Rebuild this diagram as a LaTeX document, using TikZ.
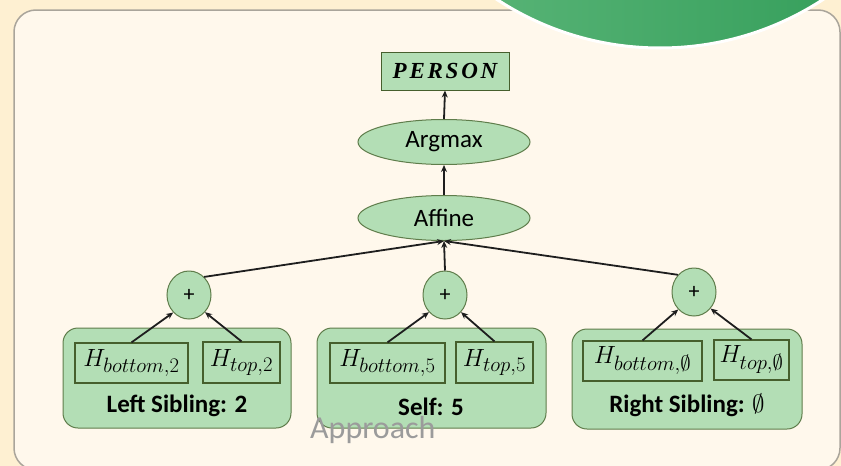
\documentclass[tikz,border=0pt]{standalone}
\usepackage{fontspec}
\setmainfont{Carlito}
\newfontfamily\personfont[LetterSpace=12]{Liberation Serif}
\usetikzlibrary{shapes.geometric,arrows.meta}

\definecolor{pagebg}{RGB}{254,240,210}
\definecolor{panelbg}{RGB}{255,248,236}
\definecolor{panelline}{RGB}{170,165,155}
\definecolor{mint}{RGB}{179,222,181}
\definecolor{mintline}{RGB}{95,125,75}
\definecolor{boxline}{RGB}{70,95,45}
\definecolor{discA}{RGB}{98,186,126}
\definecolor{discB}{RGB}{44,153,84}
\definecolor{wm}{RGB}{155,155,155}

% hidden-state label: large italic H with a roomy subscript
\newcommand{\hstate}[1]{$H_{\hbox{\fontsize{20}{22}\selectfont$#1$}}$}

\tikzset{
  greenfill/.style={fill=mint, draw=mintline, line width=1pt},
  oval/.style={greenfill, ellipse, inner sep=0pt, minimum width=172pt, minimum height=45pt,
    font=\fontsize{25}{30}\selectfont},
  sumnode/.style={greenfill, ellipse, inner sep=0pt, minimum width=44pt, minimum height=48pt,
    font=\fontsize{22}{24}\selectfont},
  group/.style={greenfill, rounded corners=15pt, minimum height=100pt, inner sep=0pt},
  hbox/.style={fill=mint, draw=boxline, line width=1.2pt, minimum height=40pt, inner sep=0pt,
    font=\fontsize{24}{28}\selectfont},
  grplabel/.style={font=\fontsize{25}{28}\selectfont\bfseries, inner sep=0pt},
  arr/.style={draw={rgb,255:red,30;green,30;blue,30}, line width=1.8pt,
    -{Stealth[length=7pt,width=6pt]}},
}

\begin{document}
\begin{tikzpicture}[x=1pt,y=-1pt]
\useasboundingbox (0,0) rectangle (841,466);
\begin{scope}
\clip (0,0) rectangle (841,466);
% slide background and content panel
\fill[pagebg] (0,0) rectangle (841,466);
\draw[panelline, line width=1.5pt, fill=panelbg, rounded corners=22pt] (14,10) rectangle (840,470);
% decorative disc at the top edge
\shade[left color=discA, right color=discB] (660,-250) circle (298);
\draw[white, line width=3pt] (660,-250) circle (298);
\end{scope}

% output and upper layers
\node[greenfill, draw=boxline, minimum width=128pt, minimum height=38pt, inner sep=0pt] (person) at (445,71)
  {\personfont\fontsize{23}{26}\selectfont\bfseries\itshape PERSON};
\node[oval] (argmax) at (444,142) {Argmax};
\node[oval] (affine) at (444,218) {Affine};

% summation nodes
\node[sumnode] (plusL) at (189,295) {+};
\node[sumnode] (plusM) at (445,295) {+};
\node[sumnode] (plusR) at (694,292) {+};

% left sibling group
\node[group, minimum width=228pt] (grpL) at (177,378) {};
\node[hbox, minimum width=113pt] (hbL) at (131.5,363) {\hstate{bottom{,}2}};
\node[hbox, minimum width=77pt, minimum height=41pt] (htL) at (241.5,362.5) {\hstate{top{,}2}};
\node[grplabel] (lblL) at (177,406) {Left Sibling: 2};

% self group
\node[group, minimum width=229pt] (grpM) at (431.5,378) {};
\node[hbox, minimum width=115pt] (hbM) at (387.5,363) {\hstate{bottom{,}5}};
\node[hbox, minimum width=77pt, minimum height=41pt] (htM) at (494.5,362.5) {\hstate{top{,}5}};
\node[grplabel] (lblM) at (431,407) {Self: 5};

% right sibling group
\node[group, minimum width=230pt] (grpR) at (687,379) {};
\node[hbox, minimum width=119pt] (hbR) at (642.5,361) {\hstate{bottom{,}\emptyset}};
\node[hbox, minimum width=75pt] (htR) at (751.5,360) {\hstate{top{,}\emptyset}};
\node[grplabel] (lblR) at (687,405) {Right Sibling: {\mdseries$\emptyset$}};

% connectors
\draw[arr] (hbL.north) -- (plusL.228);
\draw[arr] (htL.north) -- (plusL.313);
\draw[arr] (hbM.north) -- (plusM.227);
\draw[arr] (htM.north) -- (plusM.313);
\draw[arr] (hbR.north) -- (plusR.228);
\draw[arr] (htR.north) -- (plusR.315);
\draw[arr] (plusL.50) -- (affine.south);
\draw[arr] (plusM.north) -- (affine.south);
\draw[arr] (plusR.133) -- (affine.south);
\draw[arr] (affine.north) -- (argmax.south);
\draw[arr] (argmax.north) -- (person.south);

% caption overlay
\node[anchor=base west, inner sep=0pt, text=wm, font=\fontsize{32}{36}\selectfont] (cap) at (310,438) {Approach};
\end{tikzpicture}
\end{document}
